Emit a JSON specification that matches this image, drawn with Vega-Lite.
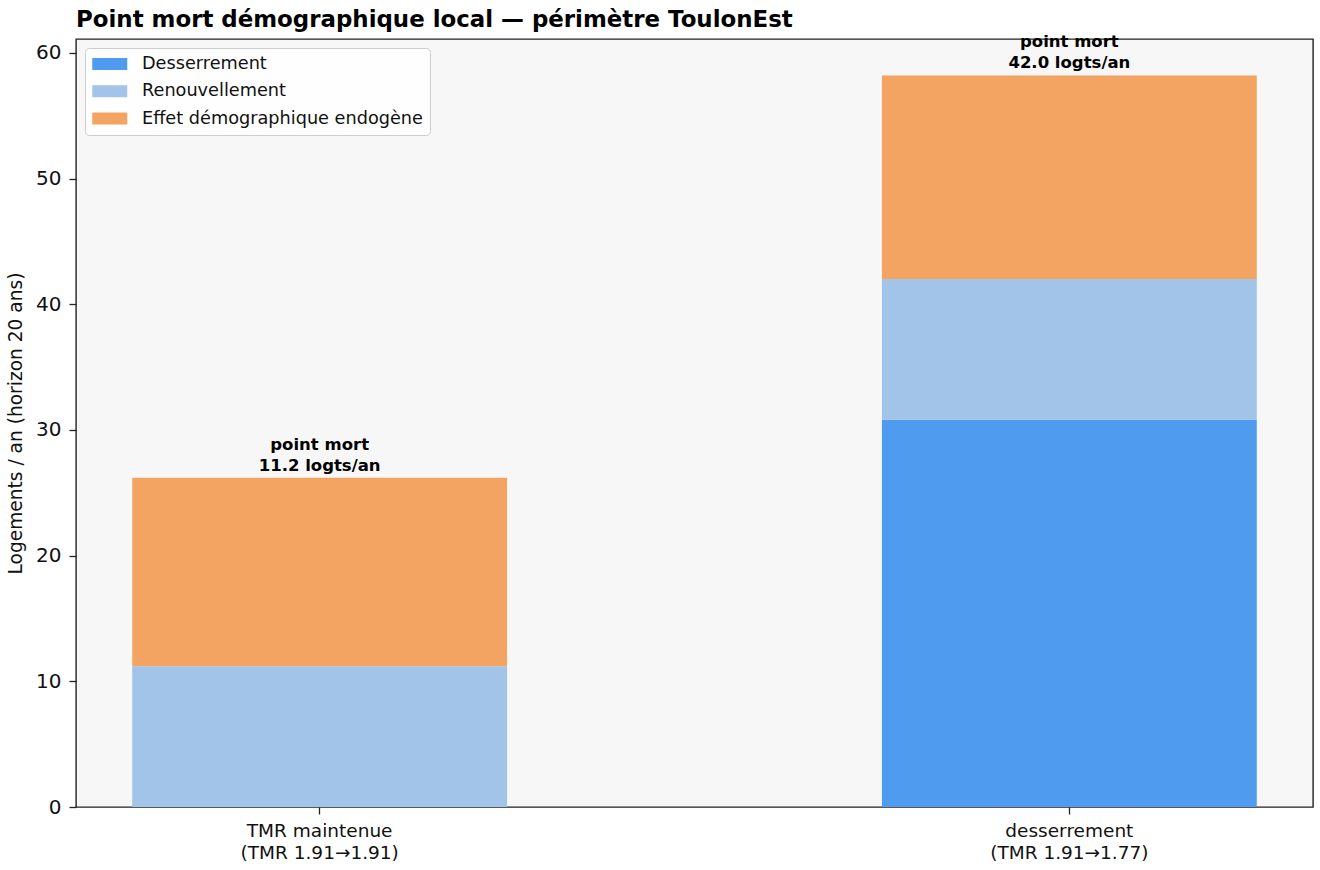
{
  "$schema": "https://vega.github.io/schema/vega-lite/v6.json",
  "width": 1237,
  "height": 768,
  "autosize": "none",
  "padding": {"left": 76, "top": 39, "right": 7, "bottom": 63},
  "background": "white",
  "config": {
    "font": "DejaVu Sans",
    "view": {"fill": "#f7f7f7", "stroke": "#222222", "strokeWidth": 1.4},
    "axis": {"grid": false, "domain": false, "tickColor": "#222222", "tickSize": 7, "tickWidth": 1.3, "labelColor": "#111111", "titleColor": "#111111"}
  },
  "title": {
    "text": "Point mort démographique local — périmètre ToulonEst",
    "anchor": "start",
    "frame": "group",
    "fontSize": 22.9,
    "fontWeight": "bold",
    "color": "#000000",
    "offset": 3
  },
  "datasets": {
    "composantes": [
      {"scenario": "TMR maintenue|(TMR 1.91→1.91)", "composante": "Desserrement", "ordre": 1, "valeur": 0.0},
      {"scenario": "TMR maintenue|(TMR 1.91→1.91)", "composante": "Renouvellement", "ordre": 2, "valeur": 11.2},
      {"scenario": "TMR maintenue|(TMR 1.91→1.91)", "composante": "Effet démographique endogène", "ordre": 3, "valeur": 15.0},
      {"scenario": "desserrement|(TMR 1.91→1.77)", "composante": "Desserrement", "ordre": 1, "valeur": 30.8},
      {"scenario": "desserrement|(TMR 1.91→1.77)", "composante": "Renouvellement", "ordre": 2, "valeur": 11.2},
      {"scenario": "desserrement|(TMR 1.91→1.77)", "composante": "Effet démographique endogène", "ordre": 3, "valeur": 16.2}
    ],
    "pointsMorts": [
      {"scenario": "TMR maintenue|(TMR 1.91→1.91)", "total": 26.2, "etiquette": "point mort\n11.2 logts/an"},
      {"scenario": "desserrement|(TMR 1.91→1.77)", "total": 58.2, "etiquette": "point mort\n42.0 logts/an"}
    ]
  },
  "encoding": {
    "x": {
      "field": "scenario",
      "type": "nominal",
      "sort": null,
      "scale": {"paddingInner": 0.5, "paddingOuter": 0.075},
      "axis": {
        "title": null,
        "labelAngle": 0,
        "labelFontSize": 18.5,
        "labelPadding": 7,
        "labelLineHeight": 22,
        "labelExpr": "split(datum.label, '|')"
      }
    }
  },
  "layer": [
    {
      "data": {"name": "composantes"},
      "mark": {"type": "bar"},
      "encoding": {
        "y": {
          "field": "valeur",
          "type": "quantitative",
          "stack": "zero",
          "scale": {"domain": [0, 61.1], "nice": false, "zero": true},
          "axis": {
            "title": "Logements / an (horizon 20 ans)",
            "titleFontSize": 18.6,
            "titleFontWeight": "normal",
            "titlePadding": 10,
            "labelFontSize": 20,
            "labelPadding": 8,
            "values": [0, 10, 20, 30, 40, 50, 60]
          }
        },
        "color": {
          "field": "composante",
          "type": "nominal",
          "scale": {
            "domain": ["Desserrement", "Renouvellement", "Effet démographique endogène"],
            "range": ["#4f9bef", "#a1c4e8", "#f3a463"]
          },
          "legend": {
            "title": null,
            "orient": "none",
            "legendX": 9,
            "legendY": 9,
            "fillColor": "rgba(255,255,255,0.85)",
            "strokeColor": "#cccccc",
            "cornerRadius": 4,
            "padding": 7,
            "labelFontSize": 17.7,
            "labelLimit": 0,
            "labelColor": "#111111",
            "symbolType": "M-1,-0.686H3V0.686H-1Z",
            "symbolSize": 306,
            "symbolStrokeWidth": 0,
            "symbolOpacity": 1,
            "labelOffset": 32,
            "rowPadding": 9.3
          }
        },
        "order": {"field": "ordre", "type": "quantitative"}
      }
    },
    {
      "data": {"name": "pointsMorts"},
      "mark": {
        "type": "text",
        "baseline": "bottom",
        "align": "center",
        "dy": -25,
        "fontSize": 16.5,
        "fontWeight": "bold",
        "lineBreak": "\n",
        "lineHeight": 21,
        "color": "#000000"
      },
      "encoding": {
        "y": {"field": "total", "type": "quantitative", "stack": null},
        "text": {"field": "etiquette"}
      }
    }
  ]
}
